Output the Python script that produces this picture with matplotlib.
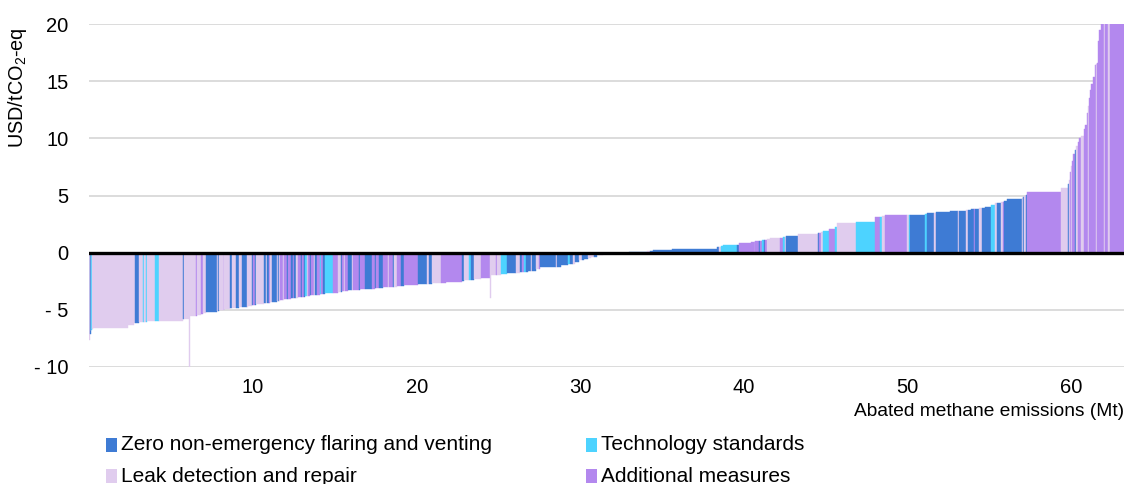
import matplotlib
matplotlib.use("Agg")
import matplotlib.pyplot as plt
from matplotlib.patches import Rectangle
import numpy as np

plt.rcParams['font.family'] = ['Liberation Sans', 'DejaVu Sans']
plt.rcParams['mathtext.fontset'] = 'custom'
plt.rcParams['mathtext.rm'] = 'Liberation Sans'
plt.rcParams['mathtext.it'] = 'Liberation Sans:italic'
plt.rcParams['mathtext.bf'] = 'Liberation Sans:bold'

# Measure categories
measure_codes = ["F", "T", "L", "A"]
measure_labels = {
    "F": "Zero non-emergency flaring and venting",
    "T": "Technology standards",
    "L": "Leak detection and repair",
    "A": "Additional measures",
}
measure_colors = {"F": "#3E7BD4", "T": "#4DD3FF", "L": "#E0CCEE", "A": "#B388EE"}

# Abatement options sorted by cost: abated volume (Mt), cost (USD/tCO2-eq), measure
abated_1 = [0.05, 0.04, 0.05, 0.06, 0.05,
            2.14, 0.37, 0.06, 0.24, 0.24,
            0.06, 0.09, 0.09, 0.49, 0.21,
            1.50, 0.06, 0.30, 0.03, 0.40,
            0.06, 0.24, 0.12, 0.18, 0.67,
            0.06, 0.06, 0.30, 0.04, 0.35,
            0.12, 0.24, 0.18, 0.18, 0.30,
            0.05, 0.24, 0.08, 0.10]
cost_1 = [-7.7, -7.1, -6.9, -6.8, -6.7,
          -6.65, -6.36, -6.13, -6.13, -6.1,
          -6.08, -6.08, -6.05, -6.03, -6.0,
          -6.0, -5.85, -5.83, -10.0, -5.54,
          -5.54, -5.5, -5.34, -5.3, -5.19,
          -5.1, -5.08, -5.04, -5.0, -4.98,
          -4.9, -4.87, -4.84, -4.8, -4.76,
          -4.74, -4.7, -4.62, -4.6]
kind_1 = ["L", "F", "L", "T", "L",
          "L", "L", "L", "F", "L",
          "T", "L", "T", "L", "T",
          "L", "F", "L", "L", "L",
          "A", "L", "A", "L", "F",
          "L", "F", "L", "A", "L",
          "F", "L", "F", "L", "F",
          "L", "L", "F", "A"]

abated_2 = [0.06, 0.49, 0.15, 0.06, 0.10,
            0.06, 0.12, 0.30, 0.10, 0.06,
            0.08, 0.15, 0.06, 0.20, 0.06,
            0.15, 0.12, 0.06, 0.12, 0.18,
            0.15, 0.06, 0.12, 0.10, 0.10,
            0.08, 0.12, 0.06, 0.15, 0.10,
            0.12, 0.15, 0.06, 0.15, 0.10,
            0.49, 0.30, 0.18, 0.10, 0.10,
            0.06, 0.15, 0.25, 0.10, 0.35,
            0.05, 0.30, 0.43, 0.20, 0.06,
            0.15, 0.30, 0.30, 0.05, 0.25,
            0.06, 0.15, 0.25, 0.18, 0.85]
cost_2 = [-4.58, -4.55, -4.45, -4.44, -4.42,
          -4.38, -4.36, -4.3, -4.25, -4.22,
          -4.2, -4.14, -4.13, -4.1, -4.08,
          -4.06, -4.02, -4.0, -3.98, -3.96,
          -3.92, -3.9, -3.88, -3.85, -3.82,
          -3.8, -3.78, -3.76, -3.74, -3.72,
          -3.7, -3.68, -3.66, -3.64, -3.62,
          -3.52, -3.5, -3.46, -3.42, -3.4,
          -3.38, -3.37, -3.32, -3.3, -3.25,
          -3.24, -3.22, -3.17, -3.15, -3.14,
          -3.12, -3.1, -3.06, -3.05, -3.04,
          -3.0, -2.98, -2.97, -2.93, -2.85]
kind_2 = ["F", "L", "F", "L", "F",
          "A", "L", "F", "L", "F",
          "L", "A", "L", "A", "F",
          "A", "F", "A", "F", "L",
          "A", "F", "A", "F", "T",
          "L", "A", "F", "A", "L",
          "F", "A", "T", "A", "F",
          "T", "A", "L", "F", "A",
          "L", "A", "F", "L", "A",
          "F", "A", "F", "A", "F",
          "A", "F", "A", "L", "A",
          "F", "L", "A", "F", "A"]

abated_3 = [0.55, 0.12, 0.18, 0.30, 0.30,
            0.30, 0.98, 0.12, 0.30, 0.12,
            0.18, 0.43, 0.55, 0.04, 0.30,
            0.06, 0.25, 0.37, 0.55, 0.24,
            0.15, 0.10, 0.12, 0.10, 0.20,
            0.10, 0.20, 0.18, 0.10, 0.95,
            0.06, 0.25, 0.43, 0.10, 0.20,
            0.10, 0.30, 0.15, 0.15, 0.20,
            0.20, 0.20, 0.20, 0.37, 0.43,
            1.10, 1.10]
cost_3 = [-2.79, -2.75, -2.72, -2.68, -2.66,
          -2.63, -2.56, -2.45, -2.43, -2.41,
          -2.4, -2.33, -2.24, -4.0, -1.98,
          -1.97, -1.95, -1.87, -1.81, -1.77,
          -1.72, -1.7, -1.68, -1.67, -1.64,
          -1.62, -1.6, -1.48, -1.46, -1.25,
          -1.24, -1.23, -1.1, -1.0, -0.98,
          -0.96, -0.82, -0.68, -0.66, -0.54,
          -0.5, -0.38, -0.35, -0.23, -0.15,
          -0.04, 0.03]
kind_3 = ["F", "L", "F", "L", "L",
          "A", "A", "F", "L", "T",
          "F", "L", "A", "L", "L",
          "A", "L", "T", "F", "L",
          "F", "A", "T", "F", "F",
          "L", "F", "L", "A", "F",
          "L", "F", "F", "T", "F",
          "L", "F", "L", "F", "F",
          "L", "L", "F", "L", "L",
          "L", "F"]

abated_4 = [0.20, 0.17, 1.16, 2.75, 0.15,
            0.10, 0.12, 0.85, 0.12, 0.73,
            0.25, 0.05, 0.20, 0.10, 0.12,
            0.08, 0.10, 0.10, 0.18, 0.60,
            0.18, 0.12, 0.10, 0.73, 1.22,
            0.06, 0.10, 0.15, 0.37, 0.37,
            0.12, 1.16, 1.16, 0.30, 0.12,
            0.18, 1.34, 0.10, 0.08, 0.92]
cost_4 = [0.1, 0.13, 0.2, 0.33, 0.45,
          0.5, 0.55, 0.65, 0.7, 0.8,
          0.95, 0.97, 1.0, 1.03, 1.05,
          1.06, 1.08, 1.1, 1.2, 1.24,
          1.32, 1.38, 1.4, 1.45, 1.62,
          1.7, 1.72, 1.76, 1.9, 2.1,
          2.2, 2.56, 2.7, 3.09, 3.15,
          3.2, 3.26, 3.26, 3.26, 3.26]
kind_4 = ["L", "F", "F", "F", "F",
          "L", "T", "T", "F", "A",
          "A", "L", "A", "F", "A",
          "T", "F", "A", "L", "L",
          "A", "T", "L", "F", "L",
          "F", "A", "L", "T", "A",
          "T", "L", "T", "A", "T",
          "L", "A", "L", "T", "F"]

abated_5 = [0.12, 0.43, 0.12, 0.85, 0.50,
            0.04, 0.44, 0.15, 0.15, 0.20,
            0.05, 0.25, 0.18, 0.18, 0.37,
            0.24, 0.12, 0.24, 0.10, 0.12,
            0.15, 0.92, 0.06, 0.06, 0.10,
            0.08, 2.08, 0.43, 0.06, 0.06,
            0.06, 0.06, 0.06, 0.12, 0.06,
            0.12, 0.06, 0.12, 0.18, 0.06,
            0.12, 0.06, 0.06, 0.06, 0.06,
            0.12, 0.12, 0.10, 0.04, 0.10,
            0.06, 0.12, 0.18, 0.06, 0.18,
            0.12, 0.84]
cost_5 = [3.4, 3.5, 3.51, 3.52, 3.6,
          3.6, 3.6, 3.72, 3.74, 3.78,
          3.8, 3.82, 3.88, 3.93, 4.0,
          4.15, 4.3, 4.37, 4.42, 4.45,
          4.48, 4.66, 4.8, 4.88, 5.0,
          5.05, 5.34, 5.68, 6.0, 6.35,
          7.1, 7.6, 8.0, 8.6, 9.0,
          9.3, 9.7, 10.0, 10.2, 10.8,
          11.2, 12.2, 12.8, 13.5, 14.2,
          14.8, 15.4, 16.4, 16.5, 16.6,
          18.5, 19.5, 22.0, 25.0, 28.0,
          32.0, 40.0]
kind_5 = ["T", "F", "L", "F", "F",
          "L", "F", "L", "F", "F",
          "A", "F", "L", "F", "F",
          "T", "L", "F", "L", "A",
          "F", "F", "L", "F", "L",
          "F", "A", "L", "F", "L",
          "A", "L", "A", "A", "F",
          "L", "A", "A", "L", "A",
          "A", "A", "L", "A", "A",
          "A", "A", "A", "L", "A",
          "A", "A", "A", "L", "A",
          "L", "A"]

abated = np.array(abated_1 + abated_2 + abated_3 + abated_4 + abated_5)
cost = np.array(cost_1 + cost_2 + cost_3 + cost_4 + cost_5)
kind = kind_1 + kind_2 + kind_3 + kind_4 + kind_5

x_ticks = [10, 20, 30, 40, 50, 60]
y_ticks = [-10, -5, 0, 5, 10, 15, 20]
y_tick_labels = ["- 10", "- 5", "0", "5", "10", "15", "20"]

W, H = 1124, 484
fig = plt.figure(figsize=(W / 100, H / 100), dpi=100)
ax = fig.add_axes([89.2 / W, 1 - 366.7 / H, 1 - 89.2 / W, (366.7 - 24.3) / H])

left = np.concatenate([[0], np.cumsum(abated)[:-1]])
colors = [measure_colors[k] for k in kind]
ax.bar(left, cost, width=abated, align="edge", color=colors,
       edgecolor=colors, linewidth=0.3, zorder=2)

ax.axhline(0, color="black", lw=2.4, zorder=4)
ax.set_xlim(0, abated.sum())
ax.set_ylim(-10, 20)
ax.set_yticks(y_ticks)
ax.set_yticklabels(y_tick_labels)
ax.set_xticks(x_ticks)
ax.set_xticklabels([str(t) for t in x_ticks])
ax.yaxis.grid(True, color="#d9d9d9", lw=1.3, zorder=0)
ax.set_axisbelow(True)
for s in ax.spines.values():
    s.set_visible(False)
ax.tick_params(axis="both", length=0, labelsize=14.5, colors="black")
ax.tick_params(axis="y", pad=15)
ax.tick_params(axis="x", pad=8)

fig.text(18 / W, 1 - 27 / H, "USD/tCO$_2$-eq", rotation=90, ha="center",
         va="top", fontsize=14.3)
fig.text(1.0, 1 - 411 / H, "Abated methane emissions (Mt)", ha="right",
         va="center", fontsize=13.8)

# Legend: two rows, two columns
legend_pos = {"F": (106, 445), "T": (586, 445), "L": (106, 476), "A": (586, 476)}
for code in measure_codes:
    px, py = legend_pos[code]
    fig.patches.append(Rectangle((px / W, 1 - (py + 7) / H), 11 / W, 14 / H,
                                 transform=fig.transFigure,
                                 facecolor=measure_colors[code], edgecolor="none"))
    fig.text((px + 15) / W, 1 - py / H, measure_labels[code], ha="left",
             va="center", fontsize=15)

fig.savefig("out.png", dpi=100)
